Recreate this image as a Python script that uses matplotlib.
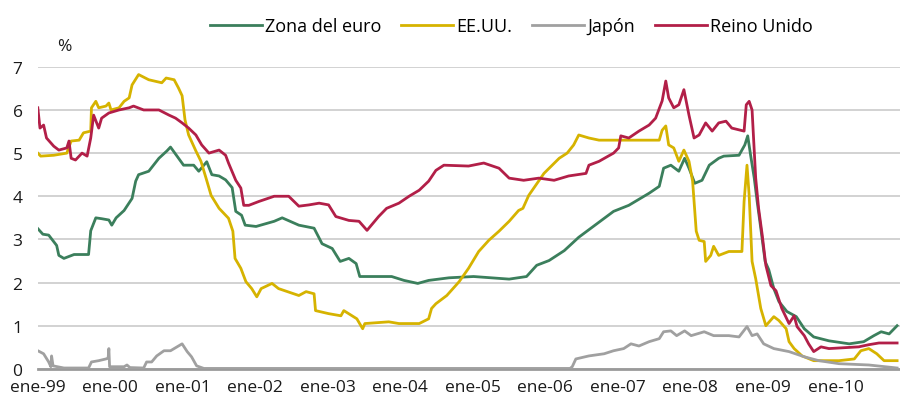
import matplotlib.pyplot as plt

# Tipos de interes a corto plazo, 1999-2010 (fecha en anos decimales)
euro_t = [1999.00, 1999.07, 1999.15, 1999.26, 1999.29, 1999.36, 1999.50, 1999.70, 1999.73, 1999.80,
          1999.88, 1999.98, 2000.02, 2000.08, 2000.19, 2000.30, 2000.35, 2000.39, 2000.53, 2000.67,
          2000.78, 2000.83, 2000.92, 2001.01, 2001.15, 2001.22, 2001.33, 2001.40, 2001.50, 2001.59,
          2001.68, 2001.73, 2001.81, 2001.86, 2002.01, 2002.26, 2002.37, 2002.60, 2002.81, 2002.92,
          2003.06, 2003.17, 2003.29, 2003.39, 2003.44, 2003.70, 2003.88, 2004.05, 2004.24, 2004.39,
          2004.67, 2005.01, 2005.50, 2005.74, 2005.88, 2006.05, 2006.26, 2006.46, 2006.74, 2006.94,
          2007.15, 2007.43, 2007.57, 2007.63, 2007.73, 2007.84, 2007.92, 2007.98, 2008.06, 2008.16,
          2008.26, 2008.39, 2008.46, 2008.67, 2008.75, 2008.79, 2008.83, 2008.88, 2008.92, 2008.97,
          2009.03, 2009.08, 2009.15, 2009.22, 2009.33, 2009.46, 2009.57, 2009.70, 2009.91, 2010.19,
          2010.39, 2010.53, 2010.63, 2010.74, 2010.85]
euro_v = [3.25, 3.12, 3.10, 2.86, 2.63, 2.56, 2.65, 2.65, 3.20, 3.50,
          3.48, 3.45, 3.33, 3.50, 3.67, 3.95, 4.35, 4.50, 4.58, 4.88,
          5.05, 5.14, 4.93, 4.72, 4.72, 4.58, 4.80, 4.50, 4.47, 4.38,
          4.20, 3.65, 3.56, 3.33, 3.30, 3.42, 3.50, 3.33, 3.26, 2.90,
          2.79, 2.49, 2.56, 2.44, 2.14, 2.14, 2.14, 2.05, 1.98, 2.05,
          2.11, 2.14, 2.08, 2.14, 2.40, 2.51, 2.74, 3.05, 3.40, 3.65,
          3.79, 4.07, 4.23, 4.65, 4.72, 4.58, 4.88, 4.65, 4.30, 4.37,
          4.72, 4.88, 4.93, 4.95, 5.19, 5.40, 4.95, 4.42, 3.88, 3.26,
          2.49, 2.30, 1.86, 1.56, 1.33, 1.21, 0.93, 0.74, 0.65, 0.58,
          0.63, 0.77, 0.86, 0.81, 1.00]

usa_t = [1999.00, 1999.04, 1999.22, 1999.40, 1999.46, 1999.57, 1999.63, 1999.73, 1999.74, 1999.80,
         1999.84, 1999.94, 1999.98, 2000.01, 2000.12, 2000.19, 2000.26, 2000.30, 2000.39, 2000.53,
         2000.71, 2000.77, 2000.88, 2000.94, 2000.99, 2001.03, 2001.08, 2001.18, 2001.25, 2001.32,
         2001.39, 2001.50, 2001.63, 2001.69, 2001.72, 2001.80, 2001.87, 2001.95, 2002.02, 2002.08,
         2002.23, 2002.32, 2002.60, 2002.70, 2002.81, 2002.83, 2003.01, 2003.18, 2003.22, 2003.40,
         2003.48, 2003.51, 2003.84, 2003.98, 2004.26, 2004.39, 2004.43, 2004.49, 2004.64, 2004.81,
         2004.94, 2005.08, 2005.22, 2005.36, 2005.50, 2005.63, 2005.69, 2005.77, 2005.98, 2006.19,
         2006.30, 2006.39, 2006.46, 2006.60, 2006.74, 2007.57, 2007.61, 2007.66, 2007.70, 2007.77,
         2007.84, 2007.91, 2007.98, 2008.03, 2008.08, 2008.12, 2008.19, 2008.21, 2008.28, 2008.32,
         2008.39, 2008.53, 2008.71, 2008.74, 2008.78, 2008.81, 2008.85, 2008.90, 2008.97, 2009.04,
         2009.15, 2009.22, 2009.32, 2009.36, 2009.43, 2009.54, 2009.70, 2010.05, 2010.26, 2010.35,
         2010.46, 2010.57, 2010.67, 2010.85]
usa_v = [5.00, 4.93, 4.95, 5.00, 5.28, 5.30, 5.47, 5.51, 6.05, 6.20,
         6.05, 6.09, 6.16, 6.00, 6.05, 6.20, 6.28, 6.58, 6.82, 6.70,
         6.63, 6.74, 6.70, 6.51, 6.33, 5.77, 5.42, 5.05, 4.81, 4.42,
         4.02, 3.72, 3.49, 3.19, 2.56, 2.33, 2.02, 1.86, 1.67, 1.86,
         1.98, 1.86, 1.70, 1.79, 1.74, 1.35, 1.28, 1.23, 1.35, 1.16,
         0.93, 1.05, 1.09, 1.05, 1.05, 1.16, 1.40, 1.51, 1.70, 2.02,
         2.33, 2.72, 2.98, 3.19, 3.42, 3.67, 3.72, 4.02, 4.53, 4.88,
         5.00, 5.19, 5.42, 5.35, 5.30, 5.30, 5.53, 5.63, 5.19, 5.12,
         4.81, 5.07, 4.81, 4.35, 3.19, 2.98, 2.95, 2.49, 2.63, 2.84,
         2.63, 2.72, 2.72, 3.88, 4.72, 4.02, 2.49, 2.09, 1.40, 1.00,
         1.21, 1.12, 0.93, 0.63, 0.47, 0.30, 0.19, 0.19, 0.23, 0.42,
         0.47, 0.35, 0.19, 0.19]

japon_t = [1999.00, 1999.08, 1999.15, 1999.18, 1999.19, 1999.21, 1999.36, 1999.70, 1999.74, 1999.84,
           1999.94, 1999.97, 1999.98, 1999.99, 2000.19, 2000.23, 2000.27, 2000.46, 2000.50, 2000.57,
           2000.64, 2000.74, 2000.83, 2000.94, 2000.99, 2001.06, 2001.12, 2001.19, 2001.29, 2006.34,
           2006.37, 2006.42, 2006.60, 2006.81, 2006.94, 2007.08, 2007.18, 2007.29, 2007.43, 2007.57,
           2007.63, 2007.73, 2007.81, 2007.92, 2008.01, 2008.19, 2008.32, 2008.53, 2008.67, 2008.78,
           2008.85, 2008.92, 2009.01, 2009.15, 2009.36, 2009.57, 2009.77, 2010.05, 2010.46, 2010.85]
japon_v = [0.42, 0.35, 0.16, 0.05, 0.30, 0.07, 0.02, 0.02, 0.16, 0.19,
           0.23, 0.25, 0.47, 0.05, 0.05, 0.09, 0.03, 0.02, 0.16, 0.16,
           0.30, 0.42, 0.42, 0.53, 0.58, 0.40, 0.28, 0.07, 0.01, 0.01,
           0.05, 0.23, 0.30, 0.35, 0.42, 0.47, 0.58, 0.53, 0.63, 0.70,
           0.86, 0.88, 0.77, 0.88, 0.77, 0.86, 0.77, 0.77, 0.74, 0.98,
           0.77, 0.81, 0.58, 0.47, 0.40, 0.28, 0.19, 0.12, 0.09, 0.02]

uk_t = [1999.00, 1999.03, 1999.08, 1999.12, 1999.22, 1999.29, 1999.40, 1999.43, 1999.46, 1999.52,
        1999.61, 1999.68, 1999.73, 1999.77, 1999.84, 1999.88, 1999.98, 2000.12, 2000.26, 2000.32,
        2000.46, 2000.67, 2000.81, 2000.90, 2000.99, 2001.08, 2001.18, 2001.26, 2001.36, 2001.50,
        2001.59, 2001.63, 2001.73, 2001.80, 2001.84, 2001.91, 2002.05, 2002.26, 2002.46, 2002.60,
        2002.74, 2002.88, 2003.01, 2003.11, 2003.29, 2003.43, 2003.54, 2003.70, 2003.81, 2003.98,
        2004.12, 2004.26, 2004.39, 2004.49, 2004.60, 2004.94, 2005.15, 2005.36, 2005.50, 2005.70,
        2005.91, 2006.12, 2006.32, 2006.56, 2006.60, 2006.74, 2006.94, 2007.01, 2007.04, 2007.15,
        2007.29, 2007.43, 2007.52, 2007.61, 2007.66, 2007.70, 2007.77, 2007.84, 2007.91, 2007.98,
        2008.05, 2008.12, 2008.21, 2008.30, 2008.39, 2008.49, 2008.57, 2008.74, 2008.77, 2008.81,
        2008.85, 2008.88, 2008.90, 2008.94, 2008.99, 2009.04, 2009.11, 2009.18, 2009.26, 2009.36,
        2009.43, 2009.47, 2009.57, 2009.63, 2009.70, 2009.80, 2009.91, 2010.32, 2010.46, 2010.60,
        2010.85]
uk_v = [6.05, 5.58, 5.65, 5.35, 5.16, 5.07, 5.12, 5.28, 4.88, 4.84,
        5.00, 4.93, 5.35, 5.88, 5.58, 5.81, 5.93, 6.00, 6.05, 6.09,
        6.00, 6.00, 5.88, 5.81, 5.70, 5.58, 5.42, 5.19, 5.00, 5.07,
        4.95, 4.77, 4.37, 4.19, 3.79, 3.79, 3.88, 4.00, 4.00, 3.77,
        3.80, 3.84, 3.80, 3.53, 3.44, 3.42, 3.21, 3.53, 3.72, 3.84,
        4.00, 4.14, 4.35, 4.60, 4.72, 4.70, 4.77, 4.65, 4.42, 4.37,
        4.42, 4.37, 4.47, 4.53, 4.72, 4.81, 5.00, 5.12, 5.40, 5.35,
        5.51, 5.65, 5.81, 6.21, 6.67, 6.28, 6.05, 6.12, 6.47, 5.88,
        5.35, 5.42, 5.70, 5.51, 5.70, 5.74, 5.58, 5.51, 6.12, 6.20,
        6.00, 5.05, 4.42, 3.72, 3.10, 2.40, 1.93, 1.81, 1.40, 1.05,
        1.23, 0.98, 0.77, 0.58, 0.40, 0.51, 0.47, 0.51, 0.56, 0.60,
        0.60]

years = list(range(1999, 2011))
year_labels = ["ene-%02d" % (y % 100) for y in years]

plt.rcParams['font.family'] = ['Open Sans', 'DejaVu Sans']

fig = plt.figure(figsize=(9, 4.06), dpi=100)
ax = fig.add_axes([0.042, 0.089, 0.958, 0.744])

ax.plot(euro_t, euro_v, color='#3b7f5c', lw=2.0, label='Zona del euro')
ax.plot(usa_t, usa_v, color='#d6b300', lw=2.0, label='EE.UU.')
ax.plot(japon_t, japon_v, color='#a0a0a0', lw=2.0, label='Japón')
ax.plot(uk_t, uk_v, color='#b21f48', lw=2.0, label='Reino Unido')

ax.set_xlim(1999.0, 2010.89)
ax.set_ylim(0, 7)
ax.set_yticks(range(0, 8))
ax.set_xticks(years)
ax.set_xticklabels(year_labels)
ax.tick_params(axis='both', length=0, labelsize=12.5, colors='#1a1a1a')
ax.tick_params(axis='y', pad=11)
ax.tick_params(axis='x', pad=7)
ax.grid(axis='y', color='#cfcfcf', lw=1.3)
ax.set_axisbelow(True)
for s in ['top', 'right', 'left']:
    ax.spines[s].set_visible(False)
ax.spines['bottom'].set_color('#9a9a9a')
ax.spines['bottom'].set_linewidth(2)
ax.spines['bottom'].set_zorder(1)

fig.text(0.072, 0.885, '%', fontsize=12.5, ha='center', va='center', color='#1a1a1a')

fig.legend(loc='center', bbox_to_anchor=(0.568, 0.933), ncol=4, frameon=False,
           fontsize=13, handlelength=2.9, handletextpad=0.15, columnspacing=1.1)

plt.savefig('out.png', dpi=100)
